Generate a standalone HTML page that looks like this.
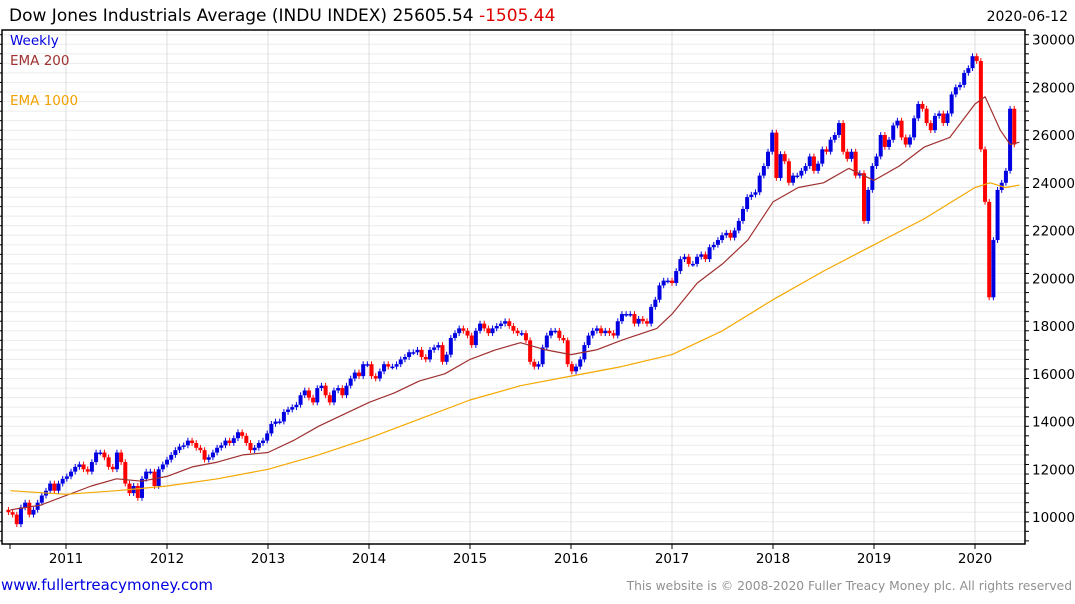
<!DOCTYPE html>
<html><head><meta charset="utf-8"><style>
body{margin:0;background:#fff;width:1075px;height:600px;overflow:hidden;font-family:"DejaVu Sans",sans-serif}
</style></head><body>
<svg id="c" width="1075" height="600" xmlns="http://www.w3.org/2000/svg" font-family="DejaVu Sans, Liberation Sans, sans-serif">
<text x="9" y="21" font-size="17" fill="#000">Dow Jones Industrials Average (INDU INDEX) 25605.54 <tspan fill="#e00000">-1505.44</tspan></text>
<text x="1068" y="21" font-size="14" text-anchor="end" fill="#000">2020-06-12</text>
<g id="grid"></g>
<g id="marks"></g>
<text x="10" y="45" font-size="13.5" fill="#0000e0">Weekly</text>
<text x="10" y="65" font-size="13.5" fill="#a03030">EMA 200</text>
<text x="10" y="105" font-size="13.5" fill="#f0a000">EMA 1000</text>
<text x="1" y="590" font-size="15" fill="#0000e0">www.fullertreacymoney.com</text>
<text x="1072" y="590" font-size="12.3" text-anchor="end" fill="#909090">This website is © 2008-2020 Fuller Treacy Money plc. All rights reserved</text>
</svg>
<script>
const closes=[10200,10100,9700,10400,10600,10100,10300,10600,10900,11100,11400,11100,11400,11600,
11700,11900,12100,12200,12000,11900,12300,12700,12700,12500,12100,12000,12700,12300,11400,11000,11300,10800,11600,11900,11900,11300,12000,12200,
12400,12600,12800,12950,13000,13200,13100,12900,12800,12400,12500,12700,12900,13000,13200,13100,13300,13550,13400,13100,12800,12900,13100,13200,
13500,13900,14000,14000,14400,14500,14600,14700,15100,15300,15000,14800,15400,15500,15100,14800,15300,15400,15100,15500,15800,16050,15900,16400,
16400,15900,15800,16100,16400,16300,16300,16400,16600,16700,16900,16900,17000,16700,16600,17000,17100,17200,16500,16800,17500,17700,17900,17800,
17600,17200,17800,18100,17900,17700,17900,18000,18100,18200,18000,17800,17700,17700,17400,16500,16300,16400,17100,17600,17800,17800,17500,17400,
16400,16100,16300,16600,17200,17600,17800,17900,17700,17800,17700,17600,18200,18500,18500,18500,18100,18300,18200,18100,18800,19100,19700,19900,
19900,19800,20300,20800,20900,20600,20600,20900,21000,20800,21300,21400,21600,21800,21900,21700,22000,22400,22900,23400,23500,23600,24300,24700,
25300,26100,24200,25200,24900,24000,24300,24300,24500,24700,25100,24500,24800,25400,25300,25800,26000,26500,25300,25000,25300,24300,24400,22400,
23700,24700,25100,26000,25500,25800,26400,26600,25900,25600,25900,26700,27300,27100,26500,26200,26800,26900,26500,26900,27700,28000,28100,28600,
28800,29300,29100,25400,23200,19200,21600,23700,24000,24500,27100,25605];
const ema200Years=[2010.45,2010.75,2011,2011.25,2011.5,2011.75,2012,2012.25,2012.5,2012.75,2013,2013.25,2013.5,2013.75,2014,2014.25,2014.5,2014.75,2015,2015.25,2015.5,2015.75,2016,2016.25,2016.5,2016.85,2017,2017.25,2017.5,2017.75,2018,2018.25,2018.5,2018.75,2019,2019.25,2019.5,2019.75,2020,2020.1,2020.25,2020.35,2020.44];
const ema200Values=[10300,10500,10900,11300,11600,11500,11700,12100,12300,12600,12700,13200,13800,14300,14800,15200,15700,16000,16600,17000,17300,17000,16800,17000,17400,17900,18500,19800,20600,21600,23200,23800,24000,24600,24100,24700,25500,25900,27300,27600,26200,25600,25700];
const ema1000Years=[2010.45,2011,2011.5,2012,2012.5,2013,2013.5,2014,2014.5,2015,2015.5,2016,2016.5,2017,2017.5,2018,2018.5,2019,2019.5,2020,2020.15,2020.3,2020.44];
const ema1000Values=[11100,10950,11100,11300,11600,12000,12600,13300,14100,14900,15500,15900,16300,16800,17800,19100,20300,21400,22500,23800,24000,23800,23900];
const yearLabels=[2011,2012,2013,2014,2015,2016,2017,2018,2019,2020];
const priceTicks=[10000,12000,14000,16000,18000,20000,22000,24000,26000,28000,30000];

const NS="http://www.w3.org/2000/svg";
const L=2,R=1025,T=30,B=544;
const xYear=t=>66+(t-2011)*101;
const yP=p=>517-(p-10000)*47.75/2000;
const xIdx=i=>xYear(2010.43+i*(10/closes.length));
function mk(tag,attrs,parent){const e=document.createElementNS(NS,tag);for(const k in attrs)e.setAttribute(k,attrs[k]);parent.appendChild(e);return e;}
const grid=document.getElementById('grid'),marks=document.getElementById('marks');
for(let p=9000;p<=30400;p+=400){const y=yP(p);if(y<T||y>B)continue;
 const g=mk('line',{x1:L,x2:R,y1:y,y2:y,stroke:(p%2000===0)?'#bdbdbd':'#ececec','stroke-width':1},grid);
 
 const tk=mk('line',{x1:L-3,x2:L,y1:y,y2:y,stroke:'#000'},grid);
 
 const tr=mk('line',{x1:R,x2:R+4,y1:y,y2:y,stroke:'#000'},grid);
 
}
yearLabels.forEach(yr=>{const x=xYear(yr);
 const v=mk('line',{x1:x,x2:x,y1:T,y2:B,stroke:'#dcdcdc'},grid);
 
 const tk=mk('line',{x1:x,x2:x,y1:B,y2:B+5,stroke:'#000'},grid);
 
 const t=mk('text',{x:x,y:B+19,'font-size':13.5,'text-anchor':'middle',fill:'#000'},grid);t.textContent=yr;
 
});
{const tk=mk('line',{x1:10,x2:10,y1:B,y2:B+5,stroke:'#000'},grid);}
priceTicks.forEach(p=>{const t=mk('text',{x:R+7,y:yP(p)+5,'font-size':13.5,fill:'#000'},grid);t.textContent=p;
 });
const ax=mk('path',{d:`M${L},${T}H${R}V${B}H${L}Z`,fill:'none',stroke:'#000','stroke-width':1.5},grid);

closes.forEach((c,i)=>{const o=i?closes[i-1]:c+100;const up=c>=o;const col=up?'#0000e0':'#ff0000';
 const x=xIdx(i);const hi=Math.max(o,c)+120,lo=Math.min(o,c)-120;
 const w=mk('line',{x1:x,x2:x,y1:yP(hi),y2:yP(lo),stroke:col,'stroke-width':1},marks);
 
 const yt=yP(Math.max(o,c)),yb=yP(Math.min(o,c));
 const r=mk('rect',{x:x-2,y:yt,width:4,height:Math.max(1.5,yb-yt),fill:col},marks);
 
});
function line(ys,vs,col,name){const d=ys.map((t,i)=>(i?'L':'M')+xYear(t).toFixed(1)+','+yP(vs[i]).toFixed(1)).join('');
 const p=mk('path',{d:d,fill:'none',stroke:col,'stroke-width':1.2,'stroke-linejoin':'round'},marks);
 }
line(ema200Years,ema200Values,'#a03030','ema-200-line');
line(ema1000Years,ema1000Values,'#f5a800','ema-1000-line');
</script>
</body></html>
